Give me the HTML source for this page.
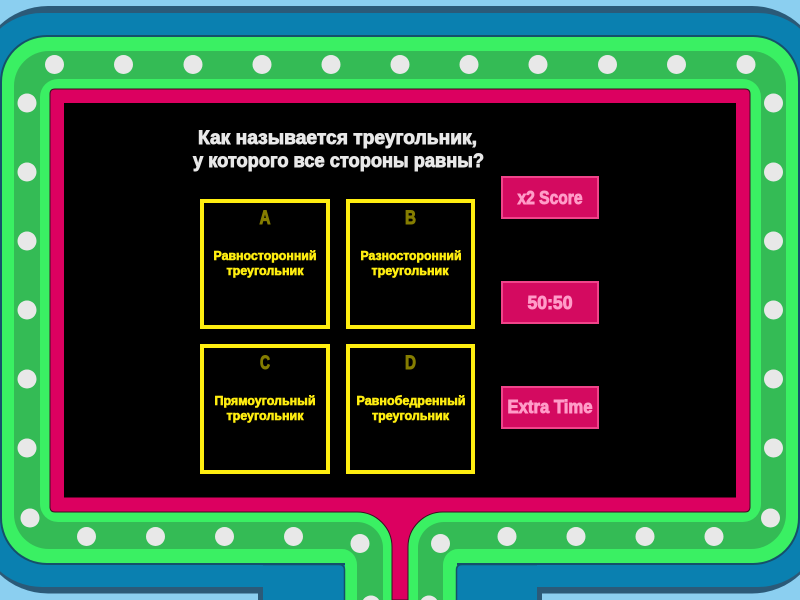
<!DOCTYPE html>
<html><head><meta charset="utf-8"><style>
html,body{margin:0;padding:0;background:#000;width:800px;height:600px;overflow:hidden}
svg{display:block}
text{font-family:"Liberation Sans","Noto Sans CJK SC",sans-serif;font-weight:bold;text-anchor:middle}
.t{fill:#e8e8e8;stroke:#e8e8e8;stroke-width:.9;font-size:19px}
.c{fill:#ffee10;stroke:#ffee10;stroke-width:.6;font-size:12.500px}
.l{fill:#857d00;stroke:#857d00;stroke-width:1;font-size:19px}
.b{fill:#ff9cc8;stroke:#ff9cc8;stroke-width:.9;font-size:18px}
</style></head><body>
<svg width="800" height="600" viewBox="0 0 800 600" xmlns="http://www.w3.org/2000/svg">
<rect width="800" height="600" fill="#8bcff0"/>
<rect x="-22" y="6" width="844" height="587.500" rx="70" fill="#2b5a78"/>
<rect x="-22" y="13" width="844" height="574" rx="64" fill="#0a80b0"/>
<rect x="258" y="588" width="284" height="12" fill="#2b5a78"/>
<rect x="263" y="580" width="274" height="20" fill="#0a80b0"/>
<!-- green frame -->
<rect x="0" y="35" width="800" height="530" rx="47" fill="#15506a"/>
<rect x="2" y="37" width="796" height="526" rx="45" fill="#3af063"/>
<rect x="345" y="550" width="112" height="50" fill="#3af063"/>
<rect x="14" y="51" width="772" height="498" rx="35" fill="#34bb55"/>
<path d="M320 540V549H342A15 16 0 0 1 357 565V600H443V565A15 16 0 0 1 458 549H480V540Z" fill="#34bb55"/>
<!-- lower blue panels -->
<path d="M263 600V564H339Q345 564 345 570V600Z" fill="#0a80b0"/>
<path d="M537 600V564H462Q457 564 457 570V600Z" fill="#0a80b0"/>
<path d="M263 564.500H339Q344.500 564.500 344.500 570V600" fill="none" stroke="#15506a" stroke-width="1.500"/>
<path d="M537 564.500H462Q456.500 564.500 456.500 570V600" fill="none" stroke="#15506a" stroke-width="1.500"/>
<!-- inner bright green -->
<rect x="40" y="79" width="721" height="443" rx="18" fill="#3af063"/>
<path d="M357 521H357V522A26 26 0 0 1 383 548V600H418V548A26 26 0 0 1 444 522V521Z" fill="#3af063"/>
<!-- pink panel -->
<path d="M55 89H745Q750 89 750 94V507Q750 512 745 512H443A35 35 0 0 0 408 547V600H392V547A35 35 0 0 0 357 512H55Q50 512 50 507V94Q50 89 55 89Z" fill="#dc0060" stroke="#3a1020" stroke-width="1"/>
<rect x="64" y="103" width="672" height="394.500" fill="#000"/>
<!-- dots -->
<g fill="#e8e8e8">
<circle cx="54.500" cy="64.500" r="9.500"/><circle cx="123.500" cy="64.500" r="9.500"/><circle cx="193" cy="64.500" r="9.500"/><circle cx="262" cy="64.500" r="9.500"/><circle cx="331" cy="64.500" r="9.500"/><circle cx="400" cy="64.500" r="9.500"/><circle cx="469" cy="64.500" r="9.500"/><circle cx="538" cy="64.500" r="9.500"/><circle cx="607.500" cy="64.500" r="9.500"/><circle cx="676.500" cy="64.500" r="9.500"/><circle cx="746" cy="64.500" r="9.500"/>
<circle cx="27" cy="103" r="9.500"/><circle cx="27" cy="172" r="9.500"/><circle cx="27" cy="241" r="9.500"/><circle cx="27" cy="310" r="9.500"/><circle cx="27" cy="379" r="9.500"/><circle cx="27" cy="448" r="9.500"/><circle cx="30" cy="518" r="9.500"/>
<circle cx="773.500" cy="103" r="9.500"/><circle cx="773.500" cy="172" r="9.500"/><circle cx="773.500" cy="241" r="9.500"/><circle cx="773.500" cy="310" r="9.500"/><circle cx="773.500" cy="379" r="9.500"/><circle cx="773.500" cy="448" r="9.500"/><circle cx="770.500" cy="518" r="9.500"/>
<circle cx="86.500" cy="536.500" r="9.500"/><circle cx="155.500" cy="536.500" r="9.500"/><circle cx="224.500" cy="536.500" r="9.500"/><circle cx="293.500" cy="536.500" r="9.500"/><circle cx="360" cy="543.500" r="9.500"/><circle cx="440.500" cy="543.500" r="9.500"/><circle cx="507" cy="536.500" r="9.500"/><circle cx="576" cy="536.500" r="9.500"/><circle cx="645" cy="536.500" r="9.500"/><circle cx="714" cy="536.500" r="9.500"/>
<circle cx="371" cy="605" r="9.500"/><circle cx="429" cy="605" r="9.500"/>
</g>
<!-- title -->
<text class="t" x="337.500" y="144" textLength="279" lengthAdjust="spacingAndGlyphs">Как называется треугольник,</text>
<text class="t" x="338.500" y="167" textLength="291" lengthAdjust="spacingAndGlyphs">у которого все стороны равны?</text>
<!-- cards -->
<g fill="none" stroke="#ffee10" stroke-width="4">
<rect x="202" y="201" width="126" height="126"/><rect x="348" y="201" width="125" height="126"/>
<rect x="202" y="346" width="126" height="126"/><rect x="348" y="346" width="125" height="126"/>
</g>
<text class="l" x="265" y="224" textLength="11" lengthAdjust="spacingAndGlyphs">A</text><text class="l" x="410.500" y="224" textLength="11" lengthAdjust="spacingAndGlyphs">B</text>
<text class="l" x="265" y="369" textLength="10" lengthAdjust="spacingAndGlyphs">C</text><text class="l" x="410.500" y="369" textLength="11" lengthAdjust="spacingAndGlyphs">D</text>
<text class="c" x="265" y="260" textLength="103" lengthAdjust="spacingAndGlyphs">Равносторонний</text>
<text class="c" x="265" y="275" textLength="77" lengthAdjust="spacingAndGlyphs">треугольник</text>
<text class="c" x="411" y="260" textLength="101" lengthAdjust="spacingAndGlyphs">Разносторонний</text>
<text class="c" x="410" y="275" textLength="77" lengthAdjust="spacingAndGlyphs">треугольник</text>
<text class="c" x="265" y="405" textLength="101" lengthAdjust="spacingAndGlyphs">Прямоугольный</text>
<text class="c" x="265" y="420" textLength="77" lengthAdjust="spacingAndGlyphs">треугольник</text>
<text class="c" x="411" y="405" textLength="109" lengthAdjust="spacingAndGlyphs">Равнобедренный</text>
<text class="c" x="410.500" y="420" textLength="77" lengthAdjust="spacingAndGlyphs">треугольник</text>
<!-- buttons -->
<g fill="#d40a60" stroke="#f0448a" stroke-width="2">
<rect x="502" y="177" width="96" height="41"/><rect x="502" y="282" width="96" height="41"/><rect x="502" y="387" width="96" height="41"/>
</g>
<text class="b" x="550" y="204" textLength="65" lengthAdjust="spacingAndGlyphs">x2 Score</text>
<text class="b" x="550" y="309" textLength="45" lengthAdjust="spacingAndGlyphs">50:50</text>
<text class="b" x="550" y="413" textLength="85" lengthAdjust="spacingAndGlyphs">Extra Time</text>
</svg>
</body></html>
